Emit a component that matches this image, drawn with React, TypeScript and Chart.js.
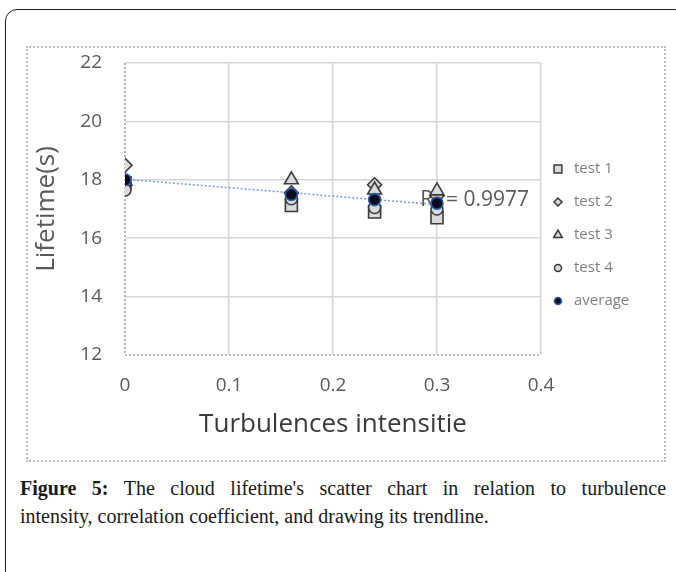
import React, { useEffect, useRef } from "react";
import { Chart, registerables } from "chart.js";

Chart.register(...registerables);

// ---- data ----
const xValues = [0, 0.16, 0.24, 0.3];
const test1 = [17.9, 17.12, 16.9, 16.7];
const test2 = [18.5, 17.55, 17.83, 17.45];
const test3 = [17.95, 18.0, 17.65, 17.62];
const test4 = [17.65, 17.35, 17.05, 17.0];
const average = [18.0, 17.5, 17.32, 17.2];
const trendX = [0, 0.3];
const trendY = [18.02, 17.15];
const seriesLabels = ["test 1", "test 2", "test 3", "test 4", "average"];
const xTickLabels = ["0", "0.1", "0.2", "0.3", "0.4"];
const yTickLabels = ["12", "14", "16", "18", "20", "22"];
const r2Text = "R\u00B2 = 0.9977";

const FONT = "'Open Sans', 'DejaVu Sans', sans-serif";

function drawShape(ctx: CanvasRenderingContext2D, style: string, x: number, y: number, r: number) {
  ctx.beginPath();
  if (style === "rect") {
    const s = r * Math.SQRT1_2;
    ctx.rect(x - s, y - s, 2 * s, 2 * s);
  } else if (style === "rectRot") {
    ctx.moveTo(x, y - r);
    ctx.lineTo(x + r, y);
    ctx.lineTo(x, y + r);
    ctx.lineTo(x - r, y);
    ctx.closePath();
  } else if (style === "triangle") {
    ctx.moveTo(x, y - r);
    ctx.lineTo(x + r * 0.866, y + r * 0.5);
    ctx.lineTo(x - r * 0.866, y + r * 0.5);
    ctx.closePath();
  } else {
    ctx.arc(x, y, r, 0, Math.PI * 2);
  }
  ctx.fill();
  ctx.stroke();
}

const legendPlugin = {
  id: "customLegend",
  afterDraw(chart: any) {
    const ctx: CanvasRenderingContext2D = chart.ctx;
    const items = chart.data.datasets.filter((d: any) => !d.isTrend);
    const startY = 121;
    const step = 33;
    ctx.save();
    items.forEach((d: any, i: number) => {
      const y = startY + i * step;
      ctx.fillStyle = d.backgroundColor;
      ctx.strokeStyle = d.borderColor;
      ctx.lineWidth = 1.5;
      drawShape(ctx, d.pointStyle, 530, y, d.legendRadius);
      ctx.fillStyle = "#7f7f7f";
      ctx.font = `15px ${FONT}`;
      ctx.textBaseline = "middle";
      ctx.textAlign = "left";
      ctx.fillText(d.label, 546, y);
    });
    ctx.restore();
  },
};

const axisLinesAndLabel = {
  id: "axisLinesAndLabel",
  beforeDatasetsDraw(chart: any) {
    const ctx: CanvasRenderingContext2D = chart.ctx;
    const { left, right, top, bottom } = chart.chartArea;
    ctx.save();
    ctx.strokeStyle = "#a9a3b2";
    ctx.lineWidth = 1.6;
    ctx.setLineDash([2, 2]);
    ctx.beginPath();
    ctx.moveTo(left, top);
    ctx.lineTo(left, bottom);
    ctx.moveTo(left, bottom);
    ctx.lineTo(right, bottom);
    ctx.stroke();
    ctx.setLineDash([]);
    const x = chart.scales.x.getPixelForValue(0.284);
    const y = chart.scales.y.getPixelForValue(17.32);
    ctx.font = `21px ${FONT}`;
    ctx.fillStyle = "#595959";
    ctx.textBaseline = "middle";
    ctx.textAlign = "left";
    ctx.fillText(r2Text, x, y);
    ctx.restore();
  },
};

function ScatterChart() {
  const ref = useRef<HTMLCanvasElement | null>(null);
  useEffect(() => {
    if (!ref.current) return;
    const pts = (ys: number[]) => xValues.map((x, i) => ({ x, y: ys[i] }));
    const marker = (label: string, ys: number[], style: string, r: number, lr: number, order: number, bg = "#dadada", bc = "#3a3a3a") => ({
      label,
      data: pts(ys),
      pointStyle: style,
      pointRadius: r,
      pointHoverRadius: r,
      backgroundColor: bg,
      borderColor: bc,
      pointBorderWidth: 1.6,
      showLine: false,
      order,
      legendRadius: lr,
    });
    const datasets: any[] = [
      marker(seriesLabels[0], test1, "rect", 8.5, 5.5, 5),
      marker(seriesLabels[1], test2, "rectRot", 7, 4, 4),
      marker(seriesLabels[2], test3, "triangle", 8, 5, 3),
      marker(seriesLabels[3], test4, "circle", 6, 3.5, 2),
      marker(seriesLabels[4], average, "circle", 6, 3.5, 1, "#0c0c1c", "#2e5ca8"),
      {
        label: "trend",
        isTrend: true,
        data: trendX.map((x, i) => ({ x, y: trendY[i] })),
        showLine: true,
        pointRadius: 0,
        borderColor: "#7f9fe0",
        borderWidth: 1.6,
        borderDash: [2, 2],
        order: 6,
      },
    ];
    const gridColor = (c: any) => (c.index === 0 ? "rgba(0,0,0,0)" : "#d3d8d3");
    const chart = new Chart(ref.current, {
      type: "scatter",
      data: { datasets },
      options: {
        animation: false,
        responsive: false,
        events: [],
        layout: { padding: { top: 15, right: 123, left: 0, bottom: 0 } },
        plugins: { legend: { display: false }, tooltip: { enabled: false } },
        scales: {
          x: {
            type: "linear",
            min: 0,
            max: 0.4,
            afterFit: (s: any) => {
              s.height = 105;
              s.paddingLeft = 0;
              s.paddingRight = 0;
            },
            ticks: {
              stepSize: 0.1,
              padding: 19,
              color: "#595959",
              font: { family: FONT, size: 19 },
              callback: (_v: any, i: number) => xTickLabels[i],
            },
            grid: { drawTicks: false, lineWidth: 1.6, color: gridColor },
            border: { display: false },
            title: {
              display: true,
              text: "Turbulences intensitie",
              color: "#3a3a3a",
              font: { family: FONT, size: 26 },
              padding: { top: 0, bottom: 20 },
            },
          },
          y: {
            type: "linear",
            min: 12,
            max: 22,
            afterFit: (s: any) => {
              s.width = 97;
              s.paddingTop = 0;
              s.paddingBottom = 0;
            },
            ticks: {
              stepSize: 2,
              padding: 23,
              color: "#595959",
              font: { family: FONT, size: 19 },
              callback: (_v: any, i: number) => yTickLabels[i],
            },
            grid: { drawTicks: false, lineWidth: 1.6, color: gridColor },
            border: { display: false },
            title: {
              display: true,
              text: "Lifetime(s)",
              color: "#595959",
              font: { family: FONT, size: 26 },
              padding: { top: 3, bottom: 0 },
            },
          },
        },
      },
      plugins: [axisLinesAndLabel, legendPlugin],
    } as any);
    return () => chart.destroy();
  }, []);
  return <canvas ref={ref} width={636} height={412} style={{ display: "block", width: 636, height: 412 }} />;
}

export default function App() {
  return (
    <div style={{ position: "absolute", left: 0, top: 0, width: 676, height: 572, overflow: "hidden", background: "#fff" }}>
      <div
        style={{
          position: "absolute",
          left: 5,
          top: 9,
          width: 720,
          height: 620,
          border: "1px solid #1e1e1e",
          borderTopLeftRadius: 12,
        }}
      />
      <div
        style={{
          position: "absolute",
          left: 26,
          top: 46,
          width: 636,
          height: 412,
          border: "2px dotted #c2bcc6",
        }}
      >
        <ScatterChart />
      </div>
      <div
        style={{
          position: "absolute",
          left: 20,
          top: 474,
          width: 646,
          fontFamily: "'Liberation Serif', 'DejaVu Serif', serif",
          fontSize: 20,
          lineHeight: "28px",
          color: "#1a1a1a",
        }}
      >
        <div style={{ textAlign: "justify", textAlignLast: "justify", whiteSpace: "nowrap" }}>
          <b>Figure 5:</b> The cloud lifetime's scatter chart in relation to turbulence
        </div>
        <div>intensity, correlation coefficient, and drawing its trendline.</div>
      </div>
    </div>
  );
}
